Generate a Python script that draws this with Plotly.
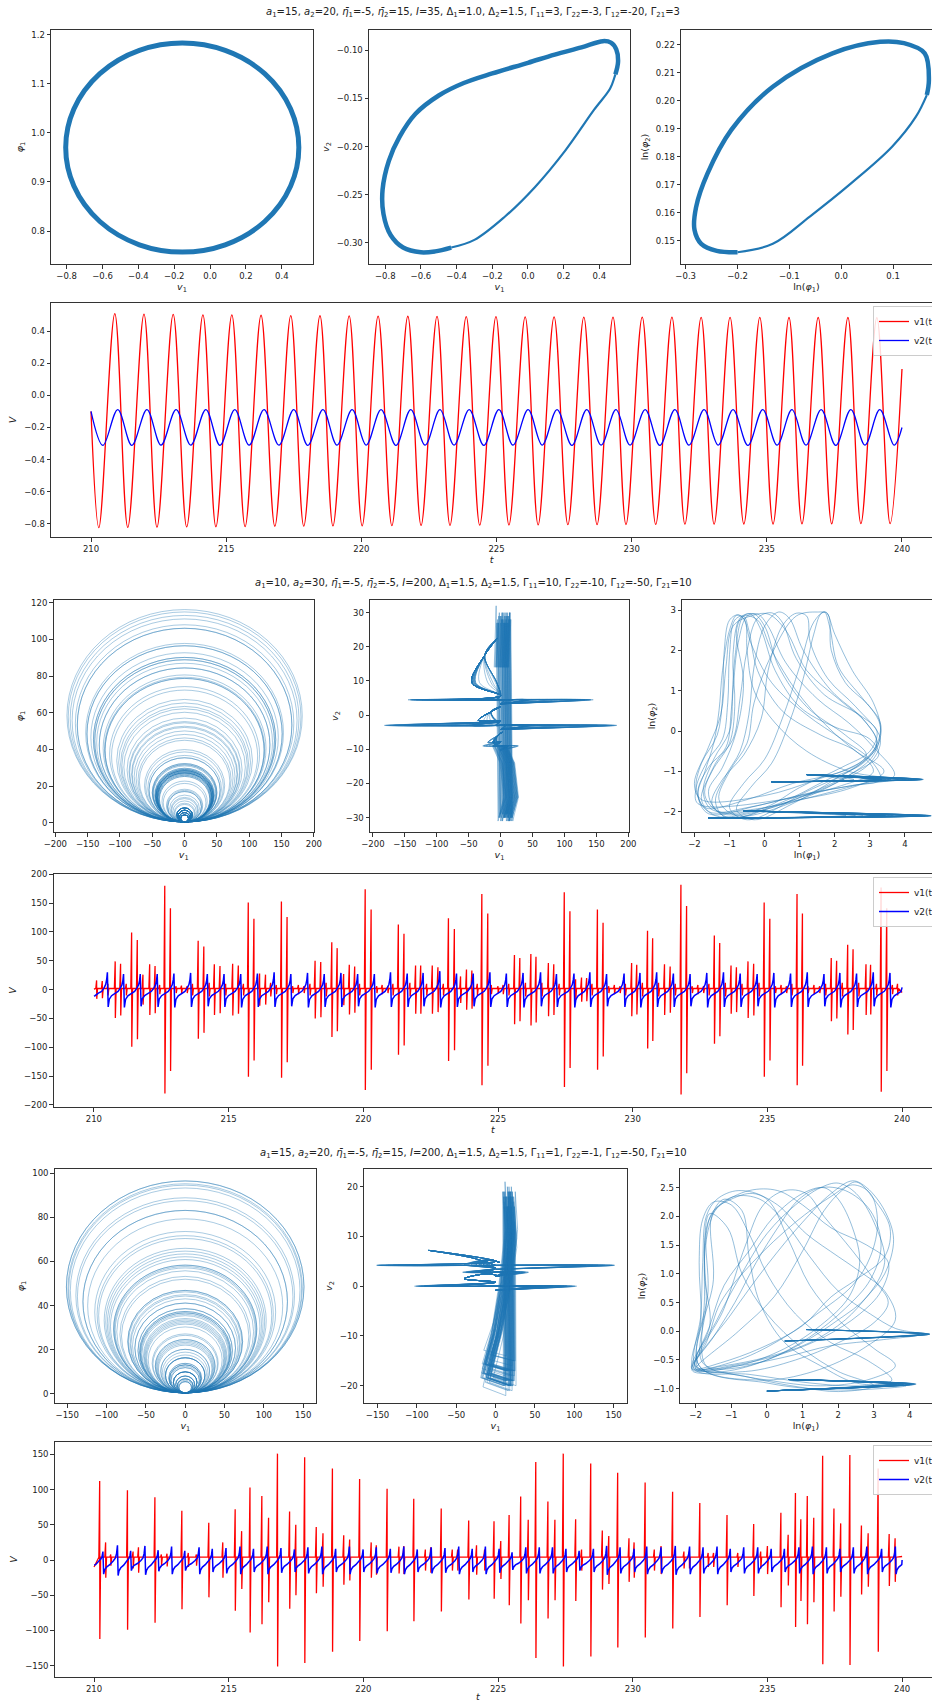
import numpy as np
import plotly.graph_objects as go

W, H = 932, 1701
FONT = "DejaVu Sans"
PB = "#1f77b4"

# ======================= DATA : section 1 =======================
s1_v1_t = [210.00, 210.29, 210.88, 211.36, 211.96, 212.44, 213.04, 213.54, 214.14, 214.62, 215.21, 215.70, 216.29,
           216.80, 217.39, 217.87, 218.47, 218.95, 219.55, 220.03, 220.62, 221.13, 221.72, 222.21, 222.80, 223.28,
           223.88, 224.38, 224.98, 225.46, 226.06, 226.54, 227.13, 227.64, 228.23, 228.72, 229.31, 229.79, 230.39,
           230.89, 231.49, 231.97, 232.57, 233.05, 233.64, 234.15, 234.74, 235.23, 235.82, 236.30, 236.90, 237.40,
           238.00, 238.48, 239.07, 239.56, 240.00]
s1_v1_v = [-0.100, -0.825, 0.510, -0.823, 0.507, -0.822, 0.505, -0.820, 0.503, -0.819, 0.502, -0.818, 0.500,
           -0.816, 0.498, -0.815, 0.497, -0.814, 0.496, -0.813, 0.495, -0.812, 0.494, -0.811, 0.493, -0.810, 0.492,
           -0.809, 0.491, -0.808, 0.490, -0.807, 0.490, -0.806, 0.489, -0.806, 0.489, -0.805, 0.488, -0.804, 0.488,
           -0.803, 0.487, -0.803, 0.487, -0.802, 0.487, -0.802, 0.486, -0.801, 0.486, -0.801, 0.486, -0.800, 0.485,
           -0.800, 0.165]
s1_v2_t = [210.00, 210.44, 210.99, 211.51, 212.07, 212.59, 213.15, 213.69, 214.25, 214.77, 215.32, 215.85, 216.40,
           216.95, 217.50, 218.02, 218.58, 219.10, 219.66, 220.18, 220.73, 221.28, 221.83, 222.36, 222.91, 223.43,
           223.99, 224.53, 225.09, 225.61, 226.17, 226.69, 227.24, 227.79, 228.34, 228.87, 229.42, 229.94, 230.50,
           231.04, 231.60, 232.12, 232.68, 233.20, 233.75, 234.30, 234.85, 235.38, 235.93, 236.45, 237.01, 237.55,
           238.11, 238.63, 239.18, 239.71, 240.00]
s1_v2_v = [-0.100, -0.312, -0.088, -0.311, -0.088, -0.310, -0.089, -0.310, -0.088, -0.311, -0.088, -0.310, -0.089,
           -0.310, -0.088, -0.311, -0.088, -0.310, -0.089, -0.310, -0.088, -0.311, -0.088, -0.310, -0.089, -0.310,
           -0.088, -0.311, -0.088, -0.310, -0.089, -0.310, -0.088, -0.311, -0.088, -0.310, -0.089, -0.310, -0.088,
           -0.311, -0.088, -0.310, -0.089, -0.310, -0.088, -0.311, -0.088, -0.310, -0.089, -0.310, -0.088, -0.311,
           -0.088, -0.310, -0.089, -0.310, -0.200]
# extent of the (v1, phi1) limit cycle: v1 min, v1 max, phi1 min, phi1 max
s1_loop_extent = [-0.805, 0.495, 0.757, 1.183]
s1_vv_slow_v1 = [0.49, 0.505, 0.495, 0.465, 0.42, 0.30, 0.15, 0.00, -0.20, -0.36, -0.50, -0.63, -0.72, -0.78, -0.815,
                 -0.81, -0.77, -0.70, -0.60, -0.52, -0.43]
s1_vv_slow_v2 = [-0.125, -0.112, -0.099, -0.092, -0.0905, -0.097, -0.1044, -0.113, -0.124, -0.134, -0.147, -0.166,
                 -0.19, -0.215, -0.245, -0.27, -0.292, -0.305, -0.31, -0.309, -0.305]
s1_vv_fast_v1 = [-0.43, -0.30, -0.13, 0.04, 0.21, 0.37, 0.46, 0.485, 0.49]
s1_vv_fast_v2 = [-0.305, -0.297, -0.273, -0.242, -0.204, -0.162, -0.14, -0.128, -0.125]
s1_ln_slow_x = [0.165, 0.169, 0.161, 0.121, 0.075, -0.017, -0.132, -0.212, -0.258, -0.28, -0.283, -0.27, -0.24, -0.20]
s1_ln_slow_y = [0.202, 0.2074, 0.2169, 0.2205, 0.221, 0.2169, 0.205, 0.1896, 0.174, 0.162, 0.154, 0.149, 0.1465, 0.146]
s1_ln_fast_x = [-0.20, -0.132, -0.06, 0.02, 0.098, 0.144, 0.165]
s1_ln_fast_y = [0.146, 0.149, 0.1588, 0.1707, 0.1836, 0.1943, 0.202]

# ======================= DATA : section 2 =======================
s2_v2_pk_t = [210.50, 211.10, 211.72, 212.35, 212.97, 213.59, 214.21, 214.83, 215.45, 216.07, 216.69, 217.31,
              217.93, 218.55, 219.17, 219.79, 220.41, 221.01, 221.63, 222.22, 222.84, 223.46, 224.08, 224.70,
              225.31, 225.93, 226.58, 227.17, 227.82, 228.41, 229.03, 229.68, 230.27, 230.89, 231.51, 232.13,
              232.75, 233.37, 233.99, 234.62, 235.24, 235.86, 236.48, 237.10, 237.69, 238.31, 238.93, 239.55]
s2_v2_top = [30, 27, 27, 27, 28, 29, 27, 27, 27, 28, 30, 27, 29, 27, 29, 27, 27, 30, 28, 29, 32, 28, 28, 30,
             28, 29, 30, 27, 28, 30, 27, 28, 29, 30, 28, 27, 29, 30, 28, 27, 29, 28, 30, 27, 29, 28, 30, 29]
s2_v2_bot = [-30, -31, -29, -30, -31, -30, -29, -30, -31, -30, -30, -29, -31, -30, -30, -29, -31, -30, -30, -29,
             -31, -30, -29, -30, -30, -31, -29, -30, -31, -30, -29, -30, -31, -30, -30, -29, -31, -30, -30, -29,
             -31, -30, -30, -29, -31, -30, -29, -31]
s2_v1_spk_t = [210.10, 210.31, 210.52, 210.79, 210.99, 211.20, 211.40, 211.61, 211.82, 212.07,
               212.27, 212.44, 212.63, 212.84, 213.05, 213.25, 213.46, 213.66, 213.87, 214.08,
               214.28, 214.47, 214.68, 214.89, 215.15, 215.36, 215.55, 215.73, 215.94, 216.15,
               216.37, 216.56, 216.77, 216.96, 217.17, 217.38, 217.59, 217.80, 218.02, 218.21,
               218.42, 218.62, 218.83, 219.03, 219.27, 219.48, 219.68, 219.86, 220.07, 220.29,
               220.50, 220.70, 220.91, 221.10, 221.30, 221.51, 221.73, 221.94, 222.13, 222.35,
               222.56, 222.77, 222.97, 223.16, 223.38, 223.61, 223.83, 224.03, 224.23, 224.40,
               224.62, 224.75, 225.00, 225.19, 225.40, 225.61, 225.81, 226.02, 226.22, 226.41,
               226.63, 226.87, 227.07, 227.27, 227.46, 227.67, 227.88, 228.10, 228.29, 228.49,
               228.69, 228.90, 229.11, 229.32, 229.53, 229.73, 229.96, 230.15, 230.36, 230.55,
               230.74, 230.96, 231.18, 231.39, 231.58, 231.79, 232.00, 232.21, 232.42, 232.63,
               232.83, 233.03, 233.23, 233.44, 233.65, 233.85, 234.06, 234.28, 234.49, 234.69,
               234.88, 235.09, 235.30, 235.51, 235.71, 235.91, 236.10, 236.30, 236.51, 236.73,
               236.94, 237.16, 237.37, 237.57, 237.78, 237.98, 238.18, 238.39, 238.66, 238.83,
               239.05, 239.22, 239.43, 239.64, 239.83]
s2_v1_spk_a = [16, 15, 10, 49, 45, 10, 99, 86, 26, 44,
               41, 8, 180, 141, 6, 7, 6, 10, 85, 75,
               12, 44, 41, 10, 45, 42, 10, 151, 123, 28,
               26, 12, 8, 153, 126, 6, 8, 6, 10, 50,
               48, 12, 82, 72, 27, 43, 40, 10, 174, 139,
               6, 8, 6, 10, 113, 97, 12, 42, 42, 10,
               42, 39, 10, 124, 105, 23, 35, 33, 10, 166,
               132, 8, 6, 8, 10, 60, 55, 12, 62, 57,
               12, 46, 44, 10, 169, 136, 18, 21, 20, 10,
               139, 116, 6, 8, 6, 10, 46, 43, 12, 102,
               89, 12, 44, 40, 10, 182, 145, 6, 8, 6,
               10, 94, 81, 12, 42, 39, 10, 49, 45, 12,
               151, 123, 6, 8, 6, 10, 166, 132, 6, 8,
               6, 10, 55, 50, 12, 78, 70, 12, 44, 43,
               10, 177, 141, 8, 10]
s2_ends = dict(v1_start=1.0, v1_end=-5.0, v2_start=-11.0, v2_end=4.0)
# v2 level during a v1 spike, by the spike's slot inside the v2 cycle (read from the v1-v2 plane)
s2_v2_level_by_slot = [-9.0, -3.0, 4.5]
s2_lnphi2_level_by_slot = [None, -2.1, -1.2]
s2_v1_at_v2pk = [5, 12, -3, 9, 14, 2, 7, -6, 11, 3, 15, 0, 8, -4, 13, 6, 10, -2, 4, 12, -7, 9, 1, 14, 7, -3, 11, 5,
                 16, 2, 8, -5, 10, 3, 13, 6, -1, 9, 15, 4, 0, 12, 7, -4, 10, 2, 14, 6]
s2_ln_loops_x = [
    [-1.6, -1.95, -1.8, -1.35, -1.2, -1.15, -1.0, -0.75, -0.55, -0.5, -0.3, 0.3, 1.2, 2.4, 3.6, 2.5, 1.0, -0.5, -1.6],
    [-1.2, -1.7, -1.4, -0.9, -0.7, -0.5, -0.2, 0.2, 0.5, 0.9, 1.7, 2.7, 3.2, 3.0, 2.2, 1.0, 0.0, -1.2],
    [-0.8, -1.3, -1.0, -0.5, -0.3, 0.2, 0.9, 1.5, 1.8, 1.9, 2.3, 3.0, 3.3, 3.1, 2.4, 1.0, -0.8],
    [-1.7, -1.9, -1.6, -1.1, -0.95, -0.85, -0.6, -0.3, 0.0, 0.4, 1.2, 2.3, 2.9, 2.2, 0.8, -0.5, -1.7],
    [-1.0, -1.5, -1.2, -0.6, -0.1, 0.1, 0.5, 0.9, 1.2, 1.3, 1.8, 2.6, 3.3, 3.0, 2.0, 0.5, -1.0],
    [-1.3, -1.6, -1.2, -0.8, -0.6, -0.8, -0.6, -0.2, 0.2, 0.9, 1.8, 2.6, 3.4, 2.5, 1.0, -1.3],
    [-1.8, -2.0, -1.6, -1.25, -1.1, -0.9, -0.4, 0.1, 0.6, 1.2, 2.1, 2.9, 3.2, 2.7, 1.5, 0.0, -1.8],
    [-0.5, -1.0, -0.6, 0.0, 0.5, 1.0, 1.4, 1.7, 1.85, 2.1, 2.8, 3.3, 3.2, 2.6, 1.2, -0.5],
    [-1.4, -1.8, -1.5, -1.0, -0.85, -0.9, -0.7, -0.4, -0.1, 0.3, 1.0, 2.0, 3.0, 3.25, 2.6, 1.4, 0.0, -1.4],
    [-1.1, -1.4, -1.1, -0.7, -0.45, -0.3, 0.0, 0.4, 0.7, 1.1, 1.9, 2.8, 3.2, 2.8, 1.8, 0.4, -1.1],
    [-1.6, -1.9, -1.7, -1.45, -1.3, -1.2, -1.0, -0.8, -0.6, -0.4, 0.2, 1.2, 2.2, 3.0, 3.3, 2.5, 1.2, -0.2, -1.6],
    [-0.3, -0.8, -0.4, 0.2, 0.7, 1.1, 1.4, 1.6, 1.75, 2.0, 2.5, 3.1, 3.3, 3.0, 2.0, 0.8, -0.3],
    [-1.5, -1.75, -1.45, -1.0, -0.9, -0.75, -0.5, -0.2, 0.1, 0.6, 1.5, 2.4, 3.1, 3.7, 2.8, 1.5, 0.0, -1.5],
    [-1.9, -1.95, -1.6, -1.2, -1.05, -1.0, -0.85, -0.6, -0.45, -0.2, 0.5, 1.6, 2.6, 3.1, 2.2, 0.5, -1.9]]
s2_ln_loops_y = [
    [-2.0, -1.45, -0.8, -0.1, 0.8, 2.0, 2.75, 2.88, 2.7, 2.0, 1.0, 0.2, -0.5, -1.0, -1.2, -1.35, -1.6, -1.9, -2.0],
    [-2.05, -1.6, -0.8, -0.2, 0.8, 2.0, 2.8, 2.93, 2.7, 1.8, 0.9, 0.4, 0.0, -0.5, -0.9, -1.4, -1.9, -2.05],
    [-2.1, -1.7, -1.0, -0.3, 0.7, 1.9, 2.85, 2.95, 2.9, 2.0, 1.2, 0.6, 0.1, -0.6, -1.1, -1.7, -2.1],
    [-1.9, -1.5, -0.9, -0.4, 0.5, 1.8, 2.85, 2.9, 2.6, 1.6, 0.6, -0.1, -0.6, -1.0, -1.3, -1.7, -1.9],
    [-2.15, -1.8, -1.2, -0.6, 0.3, 1.5, 2.6, 2.92, 2.85, 2.2, 1.3, 0.6, -0.2, -0.8, -1.3, -1.8, -2.15],
    [-2.0, -1.5, -0.9, 0.0, 1.2, 2.5, 2.85, 2.75, 2.0, 1.0, 0.1, -0.5, -1.0, -1.4, -1.7, -2.0],
    [-1.7, -1.3, -0.4, 0.4, 1.6, 2.6, 2.85, 2.9, 2.5, 1.5, 0.8, 0.2, -0.3, -0.8, -1.2, -1.6, -1.7],
    [-2.2, -1.9, -1.3, -0.7, 0.3, 1.6, 2.7, 2.95, 2.6, 1.6, 0.8, 0.2, -0.4, -0.9, -1.5, -2.2],
    [-2.1, -1.7, -1.0, -0.3, 0.6, 1.9, 2.8, 2.9, 2.5, 1.5, 0.6, 0.1, -0.2, -0.6, -1.0, -1.5, -1.95, -2.1],
    [-2.15, -1.75, -1.1, -0.5, 0.4, 1.6, 2.6, 2.95, 2.8, 2.0, 1.0, 0.3, -0.3, -0.8, -1.2, -1.8, -2.15],
    [-2.05, -1.6, -1.0, -0.3, 0.5, 1.5, 2.5, 2.87, 2.8, 2.2, 1.2, 0.4, -0.2, -0.7, -1.2, -1.35, -1.55, -1.85, -2.05],
    [-2.2, -1.95, -1.4, -0.8, 0.2, 1.3, 2.4, 2.9, 2.95, 2.4, 1.5, 0.7, 0.0, -0.6, -1.2, -1.8, -2.2],
    [-1.95, -1.5, -0.7, 0.0, 1.0, 2.2, 2.85, 2.9, 2.6, 1.7, 0.8, 0.2, -0.4, -1.1, -1.3, -1.6, -1.9, -1.95],
    [-1.8, -1.4, -0.7, -0.2, 0.7, 1.9, 2.75, 2.85, 2.5, 1.5, 0.5, -0.1, -0.5, -1.0, -1.35, -1.7, -1.8]]

# ======================= DATA : section 3 =======================
s3_v2_pk_t = [210.33, 210.87, 211.36, 211.89, 212.38, 212.88, 213.37, 213.90, 214.39, 214.90,
              215.42, 215.92, 216.43, 216.94, 217.44, 217.94, 218.46, 218.97, 219.48, 219.99,
              220.48, 221.00, 221.50, 222.00, 222.52, 223.03, 223.54, 224.04, 224.53, 225.04,
              225.52, 226.03, 226.53, 227.02, 227.52, 228.01, 228.54, 229.03, 229.53, 230.05,
              230.52, 231.05, 231.58, 232.11, 232.61, 233.13, 233.62, 234.12, 234.64, 235.14,
              235.63, 236.17, 236.67, 237.19, 237.69, 238.19, 238.69, 239.24, 239.75]
s3_v2_top = [12, 21, 13, 20, 14, 19, 13, 18, 16, 17, 19, 16, 19, 17, 15, 18, 19, 16, 19, 15, 18, 16, 19, 15, 18,
             17, 19, 16, 19, 16, 11, 18, 18, 18, 16, 13, 16, 20, 18, 16, 19, 18, 20, 19, 18, 19, 16, 18, 18, 16,
             16, 18, 19, 18, 16, 18, 19, 16, 19]
s3_v2_bot = [-20, -22, -15, -21, -16, -20, -15, -20, -17, -19, -20, -17, -20, -18, -17, -19, -20, -17, -20, -17,
             -19, -18, -20, -17, -19, -18, -20, -17, -20, -18, -14, -19, -19, -19, -17, -15, -17, -21, -19, -17,
             -20, -19, -21, -20, -19, -20, -17, -19, -19, -17, -17, -19, -20, -19, -17, -19, -20, -17, -20]
s3_v1_spk_t = [210.21, 210.43, 210.62, 211.24, 211.45, 211.65, 212.26, 212.50, 212.71, 213.26,
               213.50, 213.80, 214.26, 214.78, 215.24, 215.48, 215.79, 216.23, 216.48, 216.81,
               217.26, 217.49, 217.82, 218.25, 218.50, 218.85, 219.27, 219.49, 219.86, 220.29,
               220.48, 220.88, 221.32, 221.50, 221.87, 222.30, 222.50, 222.89, 223.30, 223.50,
               223.91, 224.20, 224.50, 224.85, 225.10, 225.41, 225.84, 226.12, 226.40, 226.85,
               227.11, 227.42, 227.88, 228.10, 228.44, 228.87, 229.11, 229.44, 229.86, 230.05,
               230.46, 230.80, 231.05, 231.48, 231.90, 232.10, 232.49, 232.80, 233.00, 233.50,
               233.90, 234.49, 234.75, 235.00, 235.50, 235.77, 236.04, 236.24, 236.48, 236.72,
               237.05, 237.47, 237.72, 238.06, 238.49, 238.74, 239.11, 239.52, 239.74]
s3_v1_spk_a = [112, 25, 8, 99, 12, 18, 89, 8, 9, 70,
               10, 8, 53, 25, 72, 41, 103, 91, 60, 151,
               69, 50, 146, 47, 38, 130, 35, 29, 115, 25,
               21, 101, 19, 20, 87, 15, 18, 73, 15, 15,
               56, 21, 15, 55, 27, 64, 90, 57, 139, 83,
               57, 151, 58, 15, 137, 42, 34, 124, 31, 25,
               110, 15, 20, 97, 12, 12, 81, 10, 10, 64,
               10, 51, 12, 20, 67, 36, 95, 58, 91, 60,
               148, 73, 52, 149, 49, 38, 130, 37, 31]
s3_ends = dict(v1_start=-10.0, v1_end=5.0, v2_start=-7.0, v2_end=0.0)
s3_v1_at_v2pk = [18, 12, 22, 15, 20, 10, 24, 16, 13, 21, 17, 11, 19, 23, 14, 18, 9, 20, 16, 22, 12, 17, 25, 15, 19,
                 11, 21, 14, 18, 20, 13, 23, 16, 10, 19, 22, 15, 17, 12, 24, 18, 14, 20, 11, 21, 16, 19, 13, 22, 17,
                 15, 20, 12, 18, 23, 14, 19, 16, 21]
# (amplitude class -> v2 level / ln(phi2) level) read from the phase planes
s3_class_min_amp = [105, 45, 0]
s3_v2_level_by_class = [4.2, 0.0, 2.8]
s3_lnphi2_level_by_class = [-0.05, -0.92, None]
s3_ln_loops_x = [
    [-2.05, -1.0, 0.0, 1.0, 1.8, 2.4, 2.8, 3.3, 3.55, 3.3, 2.8, 2.2, 1.2, 0.0, -1.2, -2.05],
    [-2.0, -1.85, -1.8, -1.7, -1.4, -0.8, 0.0, 0.6, 1.2, 2.0, 3.0, 3.6, 2.8, 1.5, 0.0, -1.2, -2.0],
    [-2.1, -1.6, -1.75, -1.65, -1.3, -0.5, 0.3, 1.0, 1.8, 2.8, 3.4, 3.2, 2.6, 1.6, 0.4, -1.0, -2.1],
    [-1.9, -1.5, -1.55, -1.2, -0.7, -0.5, -0.2, 0.5, 1.5, 2.5, 3.9, 2.5, 1.2, 0.0, -1.9],
    [-2.0, -0.8, 0.2, 1.0, 1.6, 2.1, 2.5, 3.0, 3.45, 3.3, 2.5, 1.8, 1.0, -0.2, -1.3, -2.0],
    [-1.95, -1.2, -0.6, -0.1, 0.5, 1.1, 1.6, 2.4, 3.0, 3.4, 3.0, 2.0, 0.8, -0.6, -1.95],
    [-2.1, -1.7, -1.3, -0.4, 0.8, 1.8, 2.4, 2.9, 3.1, 2.9, 2.4, 1.4, 0.5, -0.8, -2.1],
    [-1.8, -1.7, -1.75, -1.6, -1.1, -0.7, 0.0, 1.0, 2.0, 3.0, 2.0, 1.0, -0.5, -1.8],
    [-2.05, -1.85, -1.9, -1.8, -1.5, -1.0, -0.5, 0.0, 0.8, 1.8, 2.8, 3.5, 2.6, 1.2, -0.5, -2.05],
    [-2.0, -1.4, -0.8, 0.0, 0.8, 1.5, 2.0, 2.5, 3.0, 3.3, 2.8, 2.0, 1.0, 0.0, -1.0, -2.0],
    [-1.7, -1.75, -1.7, -1.4, -0.9, -0.2, 0.5, 1.2, 2.0, 2.9, 3.6, 4.3, 3.2, 1.8, 0.5, -0.8, -1.7],
    [-2.1, -1.5, -0.9, -0.3, 0.3, 0.9, 1.5, 2.2, 2.9, 3.2, 2.9, 2.2, 1.2, 0.0, -1.2, -2.1],
    [-1.9, -1.65, -1.7, -1.5, -1.0, -0.4, 0.3, 1.1, 2.0, 2.7, 3.3, 3.6, 2.7, 1.3, -0.2, -1.9],
    [-2.0, -1.6, -1.2, -0.5, 0.2, 1.0, 1.6, 2.0, 2.4, 2.6, 2.3, 1.5, 0.5, -0.8, -2.0]]
s3_ln_loops_y = [
    [-0.65, 0.3, 1.15, 1.9, 2.4, 2.62, 2.5, 2.1, 1.6, 1.0, 0.6, 0.2, -0.2, -0.45, -0.6, -0.65],
    [-0.62, 0.3, 1.2, 2.0, 2.3, 2.45, 2.3, 1.6, 0.8, 0.2, -0.3, -0.6, -0.85, -0.95, -0.85, -0.72, -0.62],
    [-0.66, 0.1, 1.0, 1.9, 2.2, 2.45, 2.45, 2.2, 1.8, 1.5, 1.2, 0.7, 0.3, -0.1, -0.4, -0.6, -0.66],
    [-0.6, 0.9, 2.0, 2.3, 2.1, 1.3, 0.5, -0.2, -0.6, -0.9, -0.95, -1.02, -1.0, -0.9, -0.6],
    [-0.65, 0.0, 0.6, 1.4, 2.1, 2.45, 2.6, 2.3, 1.8, 1.3, 0.9, 0.6, 0.1, -0.3, -0.55, -0.65],
    [-0.62, 0.4, 1.5, 2.2, 2.45, 2.4, 2.0, 1.4, 0.9, 0.5, 0.15, -0.2, -0.5, -0.7, -0.62],
    [-0.65, -0.2, 0.5, 1.2, 1.9, 2.35, 2.55, 2.4, 1.9, 1.3, 0.8, 0.3, -0.1, -0.5, -0.65],
    [-0.55, 0.5, 1.5, 2.05, 1.8, 1.0, 0.3, -0.3, -0.7, -0.95, -1.05, -0.98, -0.8, -0.55],
    [-0.65, 0.2, 1.2, 1.95, 2.25, 2.2, 1.7, 1.0, 0.3, -0.2, -0.5, -0.85, -0.95, -0.9, -0.75, -0.65],
    [-0.6, 0.2, 0.9, 1.7, 2.2, 2.5, 2.58, 2.4, 1.9, 1.2, 0.6, 0.2, -0.2, -0.5, -0.65, -0.6],
    [-0.6, 0.6, 1.6, 2.15, 2.35, 2.3, 1.9, 1.3, 0.7, 0.3, 0.05, -0.05, -0.15, -0.25, -0.45, -0.6, -0.6],
    [-0.68, -0.1, 0.5, 1.2, 1.8, 2.3, 2.5, 2.45, 2.1, 1.5, 0.9, 0.4, -0.1, -0.5, -0.7, -0.68],
    [-0.6, 0.7, 1.7, 2.1, 2.3, 2.4, 2.2, 1.7, 1.3, 1.0, 0.7, 0.2, -0.3, -0.7, -0.85, -0.6],
    [-0.65, 0.1, 0.8, 1.4, 2.0, 2.4, 2.5, 2.3, 1.8, 1.2, 0.6, 0.1, -0.3, -0.6, -0.65]]

titles = [
    "<i>a</i><sub>1</sub>=15, <i>a</i><sub>2</sub>=20, <i>η̄</i><sub>1</sub>=-5, <i>η̄</i><sub>2</sub>=15, <i>I</i>=35, "
    "Δ<sub>1</sub>=1.0, Δ<sub>2</sub>=1.5, Γ<sub>11</sub>=3, Γ<sub>22</sub>=-3, Γ<sub>12</sub>=-20, Γ<sub>21</sub>=3",
    "<i>a</i><sub>1</sub>=10, <i>a</i><sub>2</sub>=30, <i>η̄</i><sub>1</sub>=-5, <i>η̄</i><sub>2</sub>=-5, <i>I</i>=200, "
    "Δ<sub>1</sub>=1.5, Δ<sub>2</sub>=1.5, Γ<sub>11</sub>=10, Γ<sub>22</sub>=-10, Γ<sub>12</sub>=-50, Γ<sub>21</sub>=10",
    "<i>a</i><sub>1</sub>=15, <i>a</i><sub>2</sub>=20, <i>η̄</i><sub>1</sub>=-5, <i>η̄</i><sub>2</sub>=15, <i>I</i>=200, "
    "Δ<sub>1</sub>=1.5, Δ<sub>2</sub>=1.5, Γ<sub>11</sub>=1, Γ<sub>22</sub>=-1, Γ<sub>12</sub>=-50, Γ<sub>21</sub>=10",
]

# ======================= helpers =======================
def lab(v, nd):
    s = f"{abs(v):.{nd}f}"
    return ("\u2212" + s) if v < -1e-12 else s


def ticks(vals, nd):
    return dict(tickvals=vals, ticktext=[lab(v, nd) for v in vals])


def spike_path(ts, amps, base, t0, v0, t1, v1):
    xs, ys = [t0], [v0]
    for t, a in zip(ts, amps):
        xs += [t - 0.03, t, t + 0.006, t + 0.035]
        ys += [base, a, -a, base]
    xs.append(t1)
    ys.append(v1)
    return xs, ys


def saw_path(tp, top, bot, f, g, t0, v0, t1, v1, pdef):
    xs, ys = [t0], [v0]
    prev = tp[0] - pdef
    for fi, gi in zip(f[1:], g[1:]):
        tt = prev + fi * pdef
        if tt > t0 + 0.01:
            xs.append(tt)
            ys.append(gi * top[0] if gi > 0 else gi * abs(bot[0]))
    n = len(tp)
    for k in range(n):
        xs.append(tp[k]); ys.append(top[k])
        nxt = tp[k + 1] if k + 1 < n else tp[k] + pdef
        tn = top[k + 1] if k + 1 < n else top[k]
        for fi, gi in zip(f[1:], g[1:]):
            tt = tp[k] + fi * (nxt - tp[k])
            if tt >= t1 - 0.01:
                break
            xs.append(tt)
            ys.append(gi * tn if gi > 0 else gi * abs(bot[k]))
    xs.append(t1); ys.append(v1)
    return xs, ys


def slots_in_cycle(spk_t, pk_t):
    out = []
    pk = np.asarray(pk_t)
    cnt = {}
    for t in spk_t:
        k = int(np.searchsorted(pk, t)) - 1
        cnt[k] = cnt.get(k, -1) + 1
        s = cnt[k]
        if k < 0:
            s = s + 1
        out.append(min(s, 2))
    return out


# ======================= figure =======================
fig = go.Figure()
layout = dict(width=W, height=H, margin=dict(l=0, r=0, t=0, b=0, autoexpand=False),
              paper_bgcolor="white", plot_bgcolor="white", showlegend=True,
              font=dict(family=FONT, size=9, color="#222"), shapes=[], annotations=[])

AXC = "#333333"
TFONT = dict(family=FONT, size=9.5, color="#222")


def add_axes(i, xpx, ypx, xr, yr, xt, yt, xtitle, ytitle, clip_right=False, ystand=5):
    xk = "xaxis" if i == 1 else f"xaxis{i}"
    yk = "yaxis" if i == 1 else f"yaxis{i}"
    common = dict(showline=True, linecolor=AXC, linewidth=1, ticks="outside", ticklen=3.5, tickwidth=0.8,
                  tickcolor=AXC, showgrid=False, zeroline=False, automargin=False,
                  tickfont=dict(family=FONT, size=8.5, color="#222"))
    layout[xk] = dict(common, domain=[xpx[0] / W, min(xpx[1] / W, 1.0)], range=xr, anchor=f"y{i}",
                      mirror=True, **xt)
    if xtitle:
        layout[xk]["title"] = dict(text=xtitle, font=TFONT, standoff=3)
    layout[yk] = dict(common, domain=[1 - ypx[1] / H, 1 - ypx[0] / H], range=yr, anchor=f"x{i}",
                      mirror=(not clip_right), title=dict(text=ytitle, font=TFONT, standoff=ystand), **yt)


V1 = "<i>v</i><sub>1</sub>"
V2 = "<i>v</i><sub>2</sub>"
P1 = "<i>φ</i><sub>1</sub>"
LP1 = "ln(<i>φ</i><sub>1</sub>)"
LP2 = "ln(<i>φ</i><sub>2</sub>)"

s1x = [-0.8, -0.6, -0.4, -0.2, 0.0, 0.2, 0.4]
add_axes(1, (51, 313), (30, 264), [-0.887, 0.574], [0.7328, 1.2096], ticks(s1x, 1),
         ticks([0.8, 0.9, 1.0, 1.1, 1.2], 1), V1, P1)
add_axes(2, (369, 630), (30, 264), [-0.891, 0.572], [-0.3221, -0.0789], ticks(s1x, 1),
         ticks([-0.30, -0.25, -0.20, -0.15, -0.10], 2), V1, V2)
add_axes(3, (681, 943), (30, 264), [-0.309, 0.175], [0.1418, 0.2252], ticks([-0.3, -0.2, -0.1, 0.0, 0.1], 1),
         ticks([0.15, 0.16, 0.17, 0.18, 0.19, 0.20, 0.21, 0.22], 2), LP1, LP2, clip_right=True)
tx = ticks([210, 215, 220, 225, 230, 235, 240], 0)
add_axes(4, (51, 943), (303, 537), [208.52, 241.11], [-0.883, 0.5765], tx,
         ticks([-0.8, -0.6, -0.4, -0.2, 0.0, 0.2, 0.4], 1), "<i>t</i>", "<i>V</i>", clip_right=True)

add_axes(5, (53.5, 314), (600, 832), [-202.8, 200.2], [-5.1, 121.5], ticks(list(range(-200, 201, 50)), 0),
         ticks(list(range(0, 121, 20)), 0), V1, P1)
add_axes(6, (370, 629), (600, 832), [-204.5, 201.0], [-34.2, 33.7], ticks(list(range(-200, 201, 50)), 0),
         ticks([-30, -20, -10, 0, 10, 20, 30], 0), V1, V2)
add_axes(7, (682, 943), (600, 832), [-2.354, 4.77], [-2.503, 3.248], ticks([-2, -1, 0, 1, 2, 3, 4], 0),
         ticks([-2, -1, 0, 1, 2, 3], 0), LP1, LP2, clip_right=True)
add_axes(8, (53.5, 943), (874, 1107), [208.50, 241.11], [-203.6, 200.6], tx,
         ticks(list(range(-200, 201, 50)), 0), "<i>t</i>", "<i>V</i>", clip_right=True)

add_axes(9, (54.7, 316), (1169, 1403), [-165.9, 166.3], [-4.2, 101.95], ticks(list(range(-150, 151, 50)), 0),
         ticks(list(range(0, 101, 20)), 0), V1, P1)
add_axes(10, (364, 627), (1169, 1403), [-167.2, 167.0], [-23.48, 23.56], ticks(list(range(-150, 151, 50)), 0),
         ticks([-20, -10, 0, 10, 20], 0), V1, V2)
add_axes(11, (680, 943), (1169, 1403), [-2.437, 4.627], [-1.249, 2.826], ticks([-2, -1, 0, 1, 2, 3, 4], 0),
         ticks([-1.0, -0.5, 0.0, 0.5, 1.0, 1.5, 2.0, 2.5], 1), LP1, LP2, clip_right=True)
add_axes(12, (54.7, 943), (1442, 1677), [208.54, 241.11], [-166.0, 167.5], tx,
         ticks(list(range(-150, 151, 50)), 0), None, "<i>V</i>", clip_right=True)
# the last x-axis label sits at the very bottom edge of the page: place it explicitly
layout["annotations"].append(dict(text="<i>t</i>", x=478 / W, y=1 - 1696 / H, xref="paper", yref="paper",
                                  xanchor="center", yanchor="middle", showarrow=False, font=TFONT))


def sc(i, x, y, color=PB, width=1.0, shape="linear", **kw):
    fig.add_trace(go.Scatter(x=x, y=y, mode="lines", xaxis=f"x{i}", yaxis=f"y{i}",
                             line=dict(color=color, width=width, shape=shape), hoverinfo="skip", **kw))


# ---------- section 1 ----------
e = s1_loop_extent
layout["shapes"].append(dict(type="circle", xref="x1", yref="y1", x0=e[0], x1=e[1], y0=e[2], y1=e[3],
                             line=dict(color=PB, width=5), layer="above"))
sc(2, s1_vv_slow_v1, s1_vv_slow_v2, width=4.5, shape="spline", showlegend=False)
sc(2, s1_vv_fast_v1, s1_vv_fast_v2, width=2.2, shape="spline", showlegend=False)
sc(3, s1_ln_slow_x, s1_ln_slow_y, width=4.5, shape="spline", showlegend=False)
sc(3, s1_ln_fast_x, s1_ln_fast_y, width=2.2, shape="spline", showlegend=False)
sc(4, s1_v1_t, s1_v1_v, color="red", width=1.3, shape="spline", name="v1(t)", legend="legend")
sc(4, s1_v2_t, s1_v2_v, color="blue", width=1.3, shape="spline", name="v2(t)", legend="legend")

# ---------- time series 2 and 3 ----------
f2 = [0, 0.05, 0.12, 0.26, 0.46, 0.66, 0.80, 0.90, 0.96]
g2 = [1, -1, -0.55, -0.35, -0.2, -0.1, 0.1, 0.3, 0.6]
f3 = [0, 0.05, 0.12, 0.25, 0.47, 0.72, 0.86, 0.94]
g3 = [1, -1, -0.7, -0.5, -0.33, -0.05, 0.15, 0.45]

x, y = spike_path(s2_v1_spk_t, s2_v1_spk_a, 2.0, 210.0, s2_ends["v1_start"], 240.0, s2_ends["v1_end"])
sc(8, x, y, color="red", width=1.3, name="v1(t)", legend="legend2")
x, y = saw_path(s2_v2_pk_t, s2_v2_top, s2_v2_bot, f2, g2, 210.0, s2_ends["v2_start"], 240.0, s2_ends["v2_end"], 0.62)
sc(8, x, y, color="blue", width=1.5, name="v2(t)", legend="legend2")

x, y = spike_path(s3_v1_spk_t, s3_v1_spk_a, 4.0, 210.0, s3_ends["v1_start"], 240.0, s3_ends["v1_end"])
sc(12, x, y, color="red", width=1.3, name="v1(t)", legend="legend3")
x, y = saw_path(s3_v2_pk_t, s3_v2_top, s3_v2_bot, f3, g3, 210.0, s3_ends["v2_start"], 240.0, s3_ends["v2_end"], 0.507)
sc(12, x, y, color="blue", width=1.5, name="v2(t)", legend="legend3")

# ---------- phase planes 2 and 3 : (v1, phi1) loops, one per v1 spike ----------
LOOPC = "rgba(31,119,180,0.55)"
for i, amps in ((5, s2_v1_spk_a), (9, s3_v1_spk_a)):
    for a in amps:
        layout["shapes"].append(dict(type="circle", xref=f"x{i}", yref=f"y{i}", x0=-a, x1=a, y0=0.4,
                                     y1=0.4 + 2 * a / np.pi, line=dict(color=LOOPC, width=0.7), layer="above"))

# ---------- (v1, v2) planes ----------
STROKE = "rgba(31,119,180,0.6)"
slots2 = slots_in_cycle(s2_v1_spk_t, s2_v2_pk_t)
xs, ys = [], []
for a, s in zip(s2_v1_spk_a, slots2):
    L = s2_v2_level_by_slot[s]
    if s == 2:
        rx, ry = [-min(a, 45), -25, -5], [L + 5, L + 13, L + 18]
    elif s == 1:
        rx, ry = [-min(a, 35), -15, 0], [L + 1.5, L + 4, L + 5.5]
    else:
        rx, ry = [-min(a, 20), -5, 3], [L + 1, L + 3, L + 4]
    xs += [0, a, -a, 0] + rx + [None]
    ys += [L - 1.2, L, L, L + 1.2] + ry + [None]
sc(6, xs, ys, width=0.7, color=STROKE, shape="spline", showlegend=False)
xs, ys = [], []
for xk, b, bb in zip(s2_v1_at_v2pk, s2_v2_top, s2_v2_bot):
    xs += [xk - 3, xk, xk + 3, xk + 12, xk + 6, xk - 6, None]
    ys += [14, b, bb, -24, -14, -9, None]
sc(6, xs, ys, width=0.7, color=STROKE, showlegend=False)


def amp_class(a):
    for c, m in enumerate(s3_class_min_amp):
        if a >= m:
            return c
    return len(s3_class_min_amp) - 1


xs, ys = [], []
for a in s3_v1_spk_a:
    c = amp_class(a)
    L = s3_v2_level_by_class[c]
    if c == 0:
        rx, ry = [-min(a, 85), -30, 0], [L + 3, L + 1.5, L]
    else:
        rx, ry = [-min(a, 40), -10, 5], [L + 1.5, L + 2.5, L + 2]
    xs += [0, a, -a, 0] + rx + [None]
    ys += [L - 0.8, L, L, L + 0.8] + ry + [None]
sc(10, xs, ys, width=0.7, color=STROKE, shape="spline", showlegend=False)
xs, ys = [], []
for xk, b, bb in zip(s3_v1_at_v2pk, s3_v2_top, s3_v2_bot):
    xs += [xk, xk + 1, xk - 28, xk - 15, xk - 5, xk + 3, xk, None]
    ys += [b, bb, 0.92 * bb, 0.5 * bb, 0, 0.6 * b, b, None]
sc(10, xs, ys, width=0.7, color=STROKE, showlegend=False)

# ---------- (ln phi1, ln phi2) planes ----------
LNC = "rgba(31,119,180,0.6)"
for lx, ly in zip(s2_ln_loops_x, s2_ln_loops_y):
    sc(7, lx, ly, width=0.8, color=LNC, shape="spline", showlegend=False)
xs, ys = [], []
for a, s in zip(s2_v1_spk_a, slots2):
    L = s2_lnphi2_level_by_slot[s]
    if L is None or a < 15:
        continue
    tip = np.log(2 * a / np.pi)
    x0 = -1.6 if s == 1 else 0.2
    xs += [x0, tip, x0 + 1.0, None]
    ys += [L - 0.06, L, L + 0.12, None]
sc(7, xs, ys, width=0.8, color=LNC, shape="spline", showlegend=False)

for lx, ly in zip(s3_ln_loops_x, s3_ln_loops_y):
    sc(11, lx, ly, width=0.8, color=LNC, shape="spline", showlegend=False)
xs, ys = [], []
for a in s3_v1_spk_a:
    c = amp_class(a)
    L = s3_lnphi2_level_by_class[c]
    if L is None:
        continue
    tip = np.log(2 * a / np.pi)
    x0 = 0.5 if c == 0 else 0.0
    xs += [x0, tip, x0 + 0.6, None]
    ys += [L - 0.12, L, L + 0.08, None]
sc(11, xs, ys, width=0.8, color=LNC, shape="spline", showlegend=False)

# ---------- titles ----------
for ty, txt in zip((13, 583, 1153), titles):
    layout["annotations"].append(dict(text=txt, x=473 / W, y=1 - ty / H, xref="paper", yref="paper",
                                      xanchor="center", yanchor="middle", showarrow=False,
                                      font=dict(family=FONT, size=10, color="#222")))


# ---------- legends ----------
def leg(top):
    return dict(x=873 / W, y=1 - top / H, xanchor="left", yanchor="top", bgcolor="rgba(255,255,255,0.85)",
                bordercolor="#cccccc", borderwidth=1, font=dict(family=FONT, size=9, color="#222"),
                tracegroupgap=0, itemwidth=30)


layout["legend"] = leg(306)
layout["legend2"] = leg(877)
layout["legend3"] = leg(1445)

fig.update_layout(**layout)
fig.write_html("out.html")
